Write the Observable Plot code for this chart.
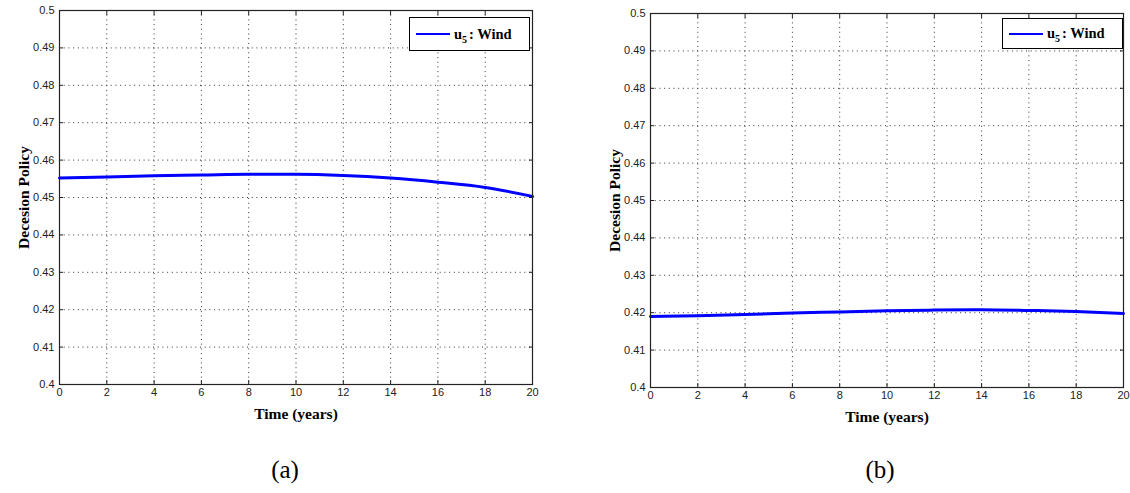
<!DOCTYPE html>
<html>
<head>
<meta charset="utf-8">
<script src="https://cdn.jsdelivr.net/npm/d3@7"></script>
<script src="https://cdn.jsdelivr.net/npm/@observablehq/plot@0.6"></script>
<style>
  html, body { margin: 0; padding: 0; background: #fff; }
  #root { position: relative; width: 1130px; height: 493px; overflow: hidden; }
  .panel { position: absolute; top: 0; }
  .panel svg { display: block; }
  g[aria-label="x-axis label"] text, g[aria-label="y-axis label"] text {
    font-family: "Liberation Serif", "Times New Roman", serif; font-weight: bold; font-size: 15.5px; fill: #000;
  }
  g[aria-label="x-axis tick label"], g[aria-label="y-axis tick label"] {
    font-family: "Liberation Sans", Arial, sans-serif; font-size: 11px;
  }
  .legend { position: absolute; border: 1px solid #000; background: #fff; box-sizing: border-box;
    font-family: "Liberation Serif", "Times New Roman", serif; font-weight: bold; font-size: 14.5px;
    display: flex; align-items: center; }
  .legend .sw { display: inline-block; width: 34px; height: 0; border-top: 2px solid #0000ff; margin: 0 4px 0 6px; }
  .legend sub { font-size: 10px; vertical-align: -4px; line-height: 0; margin-right: 2px; }
  .cap { position: absolute; font-family: "Liberation Serif", "Times New Roman", serif; font-size: 25px; transform: translate(-50%, -50%); }
</style>
</head>
<body>
<div id="root"></div>
<script>
// ---- data ----
const years = [0, 2, 4, 6, 8, 10, 12, 14, 16, 18, 20];
const windA = [0.4552, 0.4555, 0.4558, 0.4560, 0.4562, 0.4562, 0.4559, 0.4552, 0.4541, 0.4527, 0.4503];
const windB = [0.4190, 0.4192, 0.4195, 0.4199, 0.4202, 0.4205, 0.4207, 0.4208, 0.4206, 0.4203, 0.4198];
const xTicks = [0, 2, 4, 6, 8, 10, 12, 14, 16, 18, 20];
const yTicks = [0.4, 0.41, 0.42, 0.43, 0.44, 0.45, 0.46, 0.47, 0.48, 0.49, 0.5];
const xLabel = "Time (years)";
const yLabel = "Decesion Policy";
const seriesName = "Wind";
const captions = ["(a)", "(b)"];

const root = document.getElementById("root");
const fmtY = d => String(+d.toFixed(2));

function makePlot(values, cfg) {
  const data = years.map((t, i) => ({t, v: values[i]}));
  const grid = {stroke: "#333", strokeOpacity: 1, strokeDasharray: "1,3.7", strokeWidth: 1};
  return Plot.plot({
    width: cfg.width, height: cfg.height,
    marginLeft: 59, marginRight: cfg.marginRight, marginTop: cfg.marginTop, marginBottom: cfg.marginBottom,
    x: {domain: [0, 20], ticks: xTicks},
    y: {domain: [0.4, 0.5], ticks: yTicks},
    marks: [
      Plot.gridX(xTicks, grid),
      Plot.gridY(yTicks, grid),
      // tick labels + axis labels
      Plot.axisX(xTicks, {anchor: "bottom", tickSize: 0, tickPadding: 4, fill: "#222",
        label: xLabel, labelAnchor: "center", labelOffset: 34, labelArrow: "none"}),
      Plot.axisY(yTicks, {anchor: "left", tickSize: 0, tickPadding: 5, tickFormat: fmtY, fill: "#222",
        label: yLabel, labelAnchor: "center", labelOffset: 42, labelArrow: "none"}),
      // inward ticks on all four sides
      Plot.axisX(xTicks, {anchor: "bottom", tickSize: 4, dy: -4, tickFormat: () => "", label: null, stroke: "#222"}),
      Plot.axisX(xTicks, {anchor: "top", tickSize: 4, dy: 4, tickFormat: () => "", label: null, stroke: "#222"}),
      Plot.axisY(yTicks, {anchor: "left", tickSize: 4, dx: 4, tickFormat: () => "", label: null, stroke: "#222"}),
      Plot.axisY(yTicks, {anchor: "right", tickSize: 4, dx: -4, tickFormat: () => "", label: null, stroke: "#222"}),
      Plot.line(data, {x: "t", y: "v", stroke: "#0000ff", strokeWidth: 3, curve: "monotone-x"}),
      Plot.frame({stroke: "#222", strokeWidth: 1.2})
    ]
  });
}

const panels = [
  {values: windA, left: 0, width: 545, height: 440, marginRight: 13, marginTop: 10, marginBottom: 56,
   legend: {left: 409, top: 17, width: 121, height: 34}, cap: {x: 285, y: 470}},
  {values: windB, left: 591, width: 539, height: 440, marginRight: 7, marginTop: 13, marginBottom: 53,
   legend: {left: 1002, top: 18, width: 121, height: 31}, cap: {x: 880, y: 470}}
];

panels.forEach((p, i) => {
  const div = document.createElement("div");
  div.className = "panel";
  div.style.left = p.left + "px";
  div.appendChild(makePlot(p.values, p));
  root.appendChild(div);

  const lg = document.createElement("div");
  lg.className = "legend";
  Object.assign(lg.style, {left: p.legend.left + "px", top: p.legend.top + "px",
    width: p.legend.width + "px", height: p.legend.height + "px"});
  lg.innerHTML = `<span class="sw"></span><span>u<sub>5</sub>: ${seriesName}</span>`;
  root.appendChild(lg);

  const cap = document.createElement("div");
  cap.className = "cap";
  cap.style.left = p.cap.x + "px";
  cap.style.top = p.cap.y + "px";
  cap.textContent = captions[i];
  root.appendChild(cap);
});
</script>
</body>
</html>
